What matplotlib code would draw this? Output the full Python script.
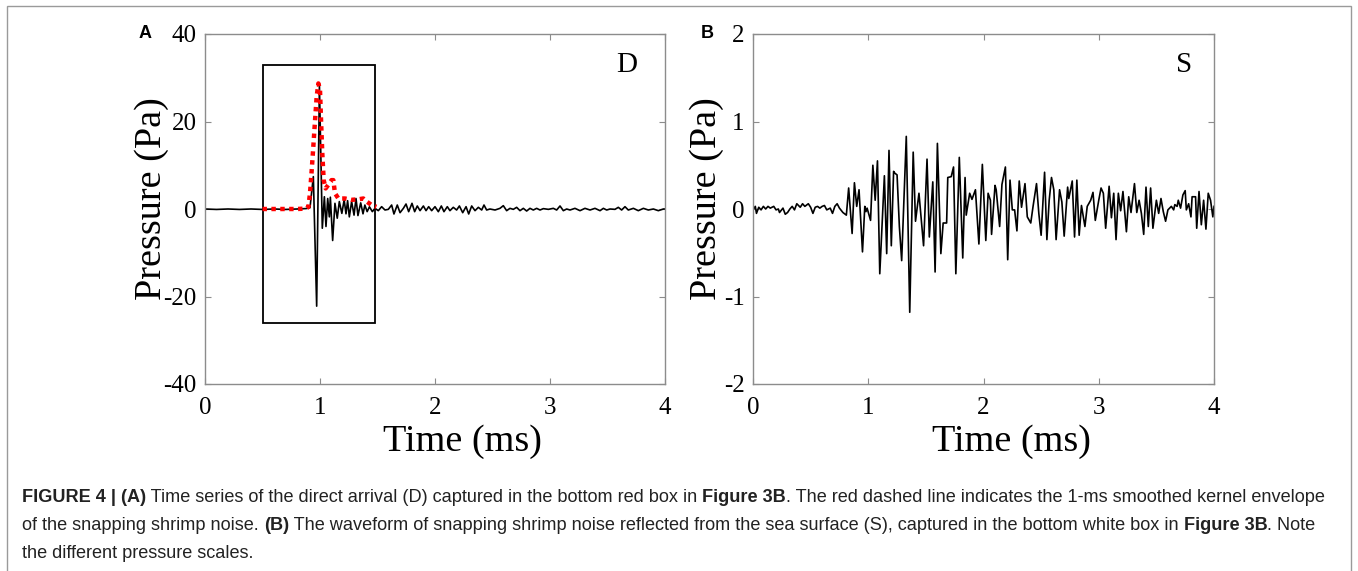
import numpy as np
import matplotlib
matplotlib.use('Agg')
import matplotlib.pyplot as plt
from matplotlib.patches import Rectangle

plt.rcParams['axes.unicode_minus'] = False

# direct arrival (D), time in ms, pressure in Pa
direct_wave = [
    (0.0, 0.0), (0.1, -0.1), (0.2, 0.0), (0.3, -0.1), (0.4, 0.0), (0.5, -0.1),
    (0.6, 0.0), (0.7, -0.1), (0.8, 0.0), (0.88, 0.1), (0.913, 0.3),
    (0.942, 7.4), (0.971, -22.2), (0.995, 28.3), (1.02, -4.4), (1.038, 2.8),
    (1.052, -4.0), (1.067, 2.4), (1.081, -1.8), (1.09, 2.7), (1.11, -7.2),
    (1.13, 1.3), (1.15, -2.1), (1.168, 1.7), (1.19, -1.0), (1.21, 2.1),
    (1.226, -1.1), (1.24, 1.9), (1.255, -1.8), (1.275, 1.7), (1.296, -1.4),
    (1.313, 2.4), (1.33, -1.5), (1.354, 1.4), (1.374, -1.1), (1.39, 0.9),
    (1.41, -0.6), (1.43, 0.5), (1.455, -0.6), (1.478, 0.15), (1.507, -0.38),
    (1.536, 0.53), (1.565, -0.23), (1.594, -0.08), (1.623, 0.91), (1.643, -1.14),
    (1.672, 0.91), (1.696, -0.84), (1.725, 0.15), (1.748, 1.14), (1.771, -0.61),
    (1.800, 1.30), (1.823, -0.61), (1.846, 0.69), (1.870, -0.38), (1.899, 0.69),
    (1.922, -0.38), (1.945, 0.53), (1.971, -0.38), (2.000, 0.53), (2.029, -0.61),
    (2.055, 0.69), (2.078, -0.61), (2.107, 0.53), (2.130, -0.38), (2.159, 0.38),
    (2.188, -0.23), (2.212, 0.69), (2.241, -0.84), (2.270, 0.53), (2.293, -1.14),
    (2.319, 0.69), (2.348, -0.38), (2.377, 0.38), (2.406, -0.23), (2.426, 0.91),
    (2.449, -0.23), (2.478, 0.0), (2.522, -0.23), (2.565, 0.15), (2.594, 0.76),
    (2.623, -0.38), (2.652, 0.15), (2.681, -0.08), (2.710, 0.38), (2.739, -0.38),
    (2.768, 0.15), (2.797, -0.46), (2.826, 0.15), (2.855, -0.23), (2.884, 0.15),
    (2.913, -0.23), (2.942, 0.08), (2.986, -0.08), (3.029, 0.15), (3.058, -0.23),
    (3.087, 0.69), (3.116, -0.38), (3.145, 0.0), (3.174, -0.23), (3.217, 0.15),
    (3.261, -0.38), (3.304, 0.15), (3.348, -0.23), (3.391, 0.15), (3.435, -0.38),
    (3.464, 0.15), (3.493, -0.23), (3.522, 0.0), (3.565, -0.08), (3.594, 0.38),
    (3.623, -0.23), (3.652, 0.53), (3.681, -0.23), (3.725, 0.15), (3.768, -0.38),
    (3.812, 0.15), (3.855, -0.23), (3.899, 0.0), (3.942, -0.38), (3.986, 0.0),
    (4.0, 0.0),
]

# 1-ms smoothed kernel envelope
envelope = [
    (0.50, 0.0), (0.60, 0.0), (0.70, 0.0), (0.80, 0.0), (0.88, 0.1),
    (0.899, 0.5), (0.913, 3.6), (0.928, 8.9), (0.942, 14.3), (0.957, 20.3),
    (0.971, 25.7), (0.986, 28.7), (1.0, 27.2), (1.009, 20.3), (1.02, 12.7),
    (1.032, 6.6), (1.049, 4.7), (1.072, 5.5), (1.10, 6.6), (1.116, 6.6),
    (1.13, 3.6), (1.16, 2.4), (1.217, 2.4), (1.275, 2.1), (1.33, 2.2),
    (1.377, 2.4), (1.406, 1.7), (1.449, 0.9), (1.49, 0.5),
]

# box around the snap (t0, t1, p0, p1)
snap_box = (0.5, 1.48, -26, 33)

# surface reflection (S)
surface_wave = [
    (0.00, -0.01), (0.02, 0.03), (0.03, -0.05), (0.05, 0.02), (0.07, -0.01),
    (0.09, 0.03), (0.11, 0.0), (0.13, 0.03), (0.15, 0.01), (0.18, 0.03),
    (0.20, -0.01), (0.22, 0.0), (0.23, -0.04), (0.26, 0.01), (0.28, -0.06),
    (0.30, -0.04), (0.32, 0.0), (0.34, 0.03), (0.36, -0.01), (0.38, 0.06),
    (0.41, 0.02), (0.43, 0.06), (0.45, 0.03), (0.48, 0.06), (0.50, 0.02),
    (0.52, -0.05), (0.54, 0.02), (0.56, 0.03), (0.58, 0.01), (0.60, 0.03),
    (0.62, 0.04), (0.64, -0.01), (0.67, 0.01), (0.69, -0.05), (0.71, 0.03),
    (0.73, 0.06), (0.75, 0.01), (0.78, -0.04), (0.81, -0.07),
    (0.83, 0.24), (0.86, -0.28), (0.88, 0.30), (0.90, 0.03), (0.92, 0.22),
    (0.95, -0.49), (0.97, 0.03), (0.98, -0.03), (0.99, 0.01), (1.02, -0.13),
    (1.04, 0.50), (1.06, 0.10), (1.08, 0.55), (1.10, -0.74), (1.14, 0.38),
    (1.16, -0.51), (1.18, 0.67), (1.20, -0.42), (1.22, 0.43), (1.23, 0.41),
    (1.25, 0.39), (1.27, -0.20), (1.29, -0.59), (1.33, 0.83), (1.36, -1.18),
    (1.39, 0.65), (1.41, -0.14), (1.44, 0.18), (1.48, -0.42), (1.51, 0.57),
    (1.53, -0.32), (1.56, 0.31), (1.58, -0.72), (1.60, 0.75), (1.63, -0.51),
    (1.65, -0.16), (1.68, -0.16), (1.69, 0.36), (1.72, 0.37), (1.74, 0.48),
    (1.76, -0.74), (1.79, 0.59), (1.82, -0.56), (1.84, 0.36), (1.85, -0.07),
    (1.87, 0.10), (1.88, 0.18), (1.90, 0.11), (1.93, 0.22), (1.96, -0.40),
    (1.99, 0.51), (2.02, -0.36), (2.04, 0.18), (2.06, 0.10), (2.07, -0.29),
    (2.10, 0.27), (2.11, 0.22), (2.14, -0.20), (2.16, 0.28), (2.19, 0.48),
    (2.21, -0.58), (2.23, 0.33), (2.25, -0.01), (2.27, -0.01), (2.29, -0.25),
    (2.31, 0.32), (2.33, 0.02), (2.36, 0.29), (2.38, -0.09), (2.41, -0.16),
    (2.43, 0.03), (2.46, 0.29), (2.48, -0.05), (2.50, -0.30), (2.53, 0.42),
    (2.55, -0.35), (2.57, 0.10), (2.59, 0.36), (2.61, 0.22), (2.63, -0.35),
    (2.66, 0.22), (2.68, 0.08), (2.70, -0.31), (2.73, 0.25), (2.74, 0.12),
    (2.77, 0.32), (2.79, -0.32), (2.81, 0.33), (2.83, -0.30), (2.85, 0.04),
    (2.88, -0.20), (2.90, 0.03), (2.93, 0.10), (2.95, 0.19), (2.97, -0.13),
    (3.00, 0.10), (3.02, 0.24), (3.04, 0.18), (3.06, -0.22), (3.09, 0.26),
    (3.11, -0.10), (3.13, 0.18), (3.15, -0.35), (3.17, 0.18), (3.19, -0.02),
    (3.21, 0.20), (3.24, -0.26), (3.26, 0.14), (3.28, -0.04), (3.31, 0.29),
    (3.33, -0.04), (3.35, 0.10), (3.37, -0.05), (3.39, -0.29), (3.41, 0.25),
    (3.43, -0.20), (3.45, 0.24), (3.47, -0.22), (3.50, 0.10), (3.52, -0.05),
    (3.54, 0.12), (3.56, -0.03), (3.58, -0.14), (3.60, -0.01), (3.63, 0.03),
    (3.65, -0.01), (3.66, 0.05), (3.68, 0.03), (3.69, 0.10), (3.71, 0.01),
    (3.73, 0.16), (3.75, 0.21), (3.76, -0.01), (3.78, 0.06), (3.80, -0.09),
    (3.81, 0.14), (3.84, 0.14), (3.85, -0.22), (3.87, 0.20), (3.89, -0.18),
    (3.91, 0.10), (3.93, -0.23), (3.95, 0.18), (3.97, 0.10), (3.99, -0.09),
    (4.00, 0.03),
]

time_ticks = [0, 1, 2, 3, 4]
a_ticks = [-40, -20, 0, 20, 40]
b_ticks = [-2, -1, 0, 1, 2]

caption = [
    [("FIGURE 4 | (A)", 'bold'),
     (" Time series of the direct arrival (D) captured in the bottom red box in ", 'normal'),
     ("Figure 3B", 'bold'),
     (". The red dashed line indicates the 1-ms smoothed kernel envelope", 'normal')],
    [("of the snapping shrimp noise. ", 'normal'), ("(B)", 'bold'),
     (" The waveform of snapping shrimp noise reflected from the sea surface (S), captured in the bottom white box in ", 'normal'),
     ("Figure 3B", 'bold'), (". Note", 'normal')],
    [("the different pressure scales.", 'normal')],
]

W, H = 1358, 571
fig = plt.figure(figsize=(W / 100, H / 100), dpi=100)

serif = 'Liberation Serif'
spine_col = '#8c8c8c'


def style_axes(ax, yticks, ylim):
    ax.set_xlim(0, 4)
    ax.set_ylim(*ylim)
    ax.set_xticks(time_ticks)
    ax.set_yticks(yticks)
    ax.tick_params(direction='in', length=4, width=0.8, color=spine_col,
                   top=True, right=True, labelsize=18)
    ax.tick_params(axis='x', pad=9)
    ax.tick_params(axis='y', pad=6)
    for lab in ax.get_xticklabels() + ax.get_yticklabels():
        lab.set_fontfamily(serif)
    for s in ax.spines.values():
        s.set_color(spine_col)
        s.set_linewidth(1.0)
    ax.set_xlabel('Time (ms)', fontsize=27.5, family=serif)
    ax.set_ylabel('Pressure (Pa)', fontsize=27.5, family=serif)
    ax.xaxis.set_label_coords(0.56, -0.115)


# panel A
axA = fig.add_axes([205 / W, 187 / H, 460 / W, 350 / H])
d = np.array(direct_wave)
e = np.array(envelope)
axA.plot(d[:, 0], d[:, 1], color='black', lw=1.2)
axA.plot(e[:, 0], e[:, 1], color='red', lw=3.2, linestyle=(0, (1, 1)))
x0, x1, y0, y1 = snap_box
axA.add_patch(Rectangle((x0, y0), x1 - x0, y1 - y0, fill=False,
                        edgecolor='black', lw=1.3))
style_axes(axA, a_ticks, (-40, 40))
axA.yaxis.set_label_coords(-0.078, 0.53)
axA.text(3.67, 33, 'D', fontsize=21, family=serif, ha='center', va='center')

# panel B
axB = fig.add_axes([753 / W, 187 / H, 461 / W, 350 / H])
s = np.array(surface_wave)
axB.plot(s[:, 0], s[:, 1], color='black', lw=1.2)
style_axes(axB, b_ticks, (-2, 2))
axB.yaxis.set_label_coords(-0.062, 0.53)
axB.text(3.74, 1.64, 'S', fontsize=21, family=serif, ha='center', va='center')

# panel letters
fig.text(145 / W, 1 - 34 / H, 'A', fontsize=13, weight='bold',
         family='Liberation Sans', ha='center', va='center')
fig.text(707 / W, 1 - 34 / H, 'B', fontsize=13, weight='bold',
         family='Liberation Sans', ha='center', va='center')

# outer frame
fig.add_artist(Rectangle((7 / W, -0.05), 1344 / W, 1.05 - 6 / H,
                         transform=fig.transFigure, fill=False,
                         edgecolor='#9a9a9a', lw=1.0))

# caption, bold and normal runs side by side
renderer = fig.canvas.get_renderer()
line_y = [497, 525, 553]
for runs, yy in zip(caption, line_y):
    x = 22
    for txt, wt in runs:
        t = fig.text(x / W, 1 - yy / H, txt, fontsize=13.1, weight=wt,
                     family='Liberation Sans', va='center', ha='left',
                     color='#222222')
        x += t.get_window_extent(renderer).width

fig.savefig('out.png', dpi=100)
